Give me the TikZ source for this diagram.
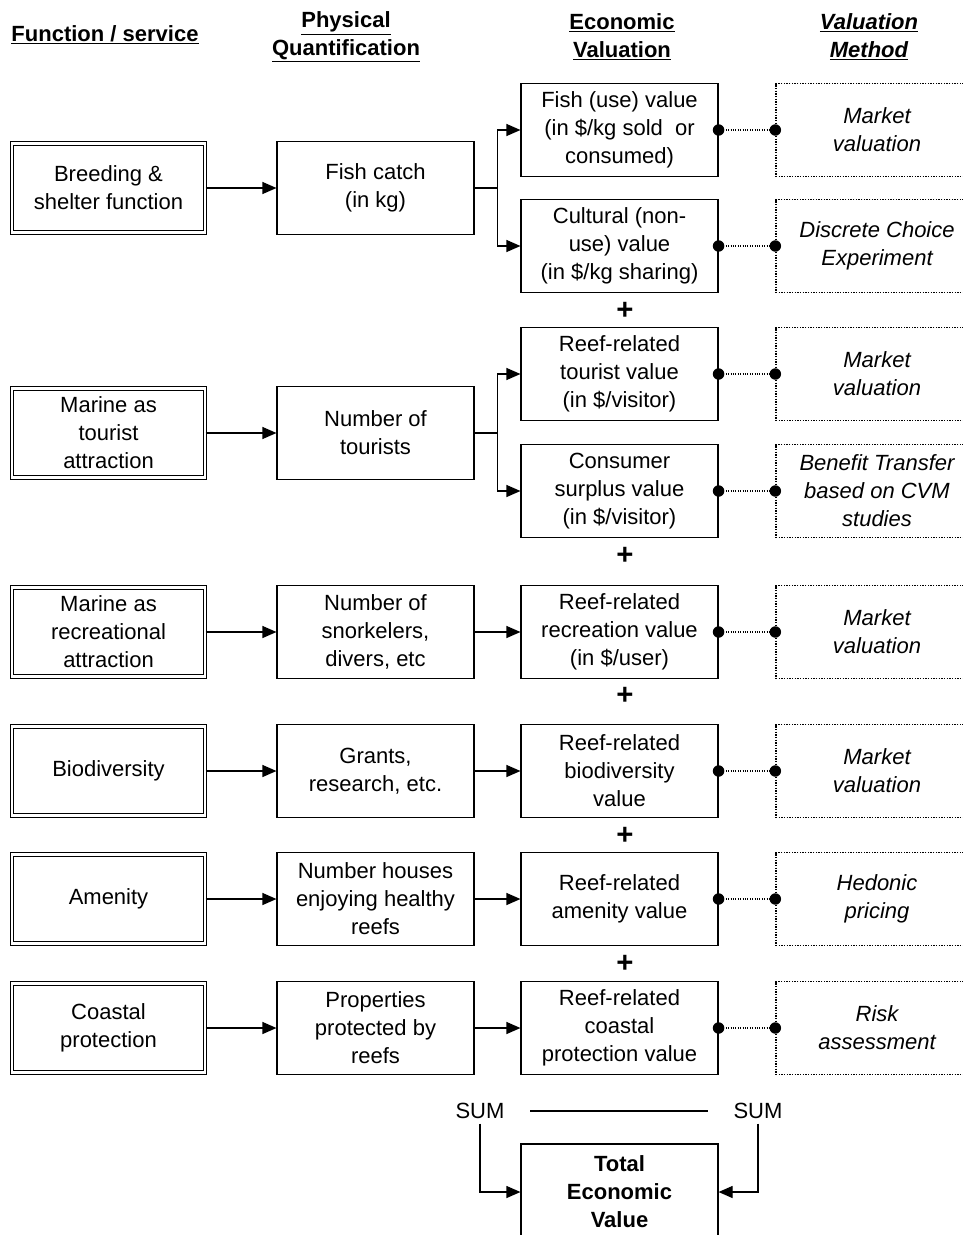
\documentclass[tikz,border=0pt]{standalone}
\usepackage{fontspec}
\setmainfont{Liberation Sans}
\usetikzlibrary{arrows.meta}
\begin{document}
\begin{tikzpicture}[x=0.75pt,y=-0.75pt,
  every node/.style={font=\fontsize{16.5}{21}\selectfont, align=center},
  head/.style={font=\fontsize{16.5}{21}\selectfont\bfseries},
  fbox/.style={draw, double, double distance=1.7pt, line width=1pt,
    minimum width=144.75pt, minimum height=66.75pt, inner sep=0pt},
  qbox/.style={draw, line width=0.85pt, minimum width=147.75pt,
    minimum height=69.75pt, inner sep=0pt},
  mbox/.style={draw, densely dotted, line width=1pt, minimum width=151.5pt,
    minimum height=69.75pt, inner sep=0pt, font=\fontsize{16.5}{21}\selectfont\itshape},
  plus/.style={font=\fontsize{22}{22}\selectfont\bfseries, inner sep=0pt},
  arr/.style={line width=0.85pt, -{Triangle[length=10.5pt,width=9pt]}},
  link/.style={densely dotted, line width=0.8pt},
  dot/.style={fill=black}
]
\useasboundingbox (0,0) rectangle (963,1235);
\clip (0,0) rectangle (963,1235);

% column headings
\node[head] (h1) at (105,35) {\underline{Function / service}};
\node[head] (h2) at (346,37) {\underline{Physical}\\\underline{Quantification}};
\node[head] (h3) at (622,37) {\underline{Economic}\\\underline{Valuation}};
\node[head, font=\fontsize{16.5}{21}\selectfont\bfseries\itshape] (h4) at (869,37)
  {\underline{Valuation}\\\underline{Method}};

% functions / services
\node[fbox] (f1) at (108.5,188) {Breeding \&\\shelter function};
\node[fbox] (f2) at (108.5,433) {Marine as\\tourist\\attraction};
\node[fbox] (f3) at (108.5,632) {Marine as\\recreational\\attraction};
\node[fbox] (f4) at (108.5,771) {Biodiversity};
\node[fbox] (f5) at (108.5,899) {Amenity};
\node[fbox] (f6) at (108.5,1028) {Coastal\\protection};

% physical quantification
\node[qbox] (q1) at (375.5,188) {Fish catch\\(in kg)};
\node[qbox] (q2) at (375.5,433) {Number of\\tourists};
\node[qbox] (q3) at (375.5,632) {Number of\\snorkelers,\\divers, etc};
\node[qbox] (q4) at (375.5,771) {Grants,\\research, etc.};
\node[qbox] (q5) at (375.5,899) {Number houses\\enjoying healthy\\reefs};
\node[qbox] (q6) at (375.5,1028) {Properties\\protected by\\reefs};

% economic valuation
\node[qbox] (e1) at (619.5,130) {Fish (use) value\\(in \$/kg sold\ \ or\\consumed)};
\node[qbox] (e2) at (619.5,246) {Cultural (non-\\use) value\\(in \$/kg sharing)};
\node[qbox] (e3) at (619.5,374) {Reef-related\\tourist value\\(in \$/visitor)};
\node[qbox] (e4) at (619.5,491) {Consumer\\surplus value\\(in \$/visitor)};
\node[qbox] (e5) at (619.5,632) {Reef-related\\recreation value\\(in \$/user)};
\node[qbox] (e6) at (619.5,771) {Reef-related\\biodiversity\\value};
\node[qbox] (e7) at (619.5,899) {Reef-related\\amenity value};
\node[qbox] (e8) at (619.5,1028) {Reef-related\\coastal\\protection value};

% valuation methods
\node[mbox] (m1) at (877,130) {Market\\valuation};
\node[mbox] (m2) at (877,246) {Discrete Choice\\Experiment};
\node[mbox] (m3) at (877,374) {Market\\valuation};
\node[mbox] (m4) at (877,491) {Benefit Transfer\\based on CVM\\studies};
\node[mbox] (m5) at (877,632) {Market\\valuation};
\node[mbox] (m6) at (877,771) {Market\\valuation};
\node[mbox] (m7) at (877,899) {Hedonic\\pricing};
\node[mbox] (m8) at (877,1028) {Risk\\assessment};

% plus signs between the values
\node[plus] (p1) at (625,311) {+};
\node[plus] (p2) at (625,556) {+};
\node[plus] (p3) at (625,696) {+};
\node[plus] (p4) at (625,836) {+};
\node[plus] (p5) at (625,964) {+};

% sum and total
\node (s1) at (480,1111) {SUM};
\node (s2) at (758,1111) {SUM};
\node[qbox, minimum height=72pt, font=\fontsize{16.5}{21}\selectfont\bfseries]
  (tev) at (619.5,1192) {Total\\Economic\\Value};

% function -> quantity
\foreach \i in {1,...,6} \draw[arr] (f\i.east) -- (q\i.west);

% quantity -> value
\draw[arr] (q1.east) -- ++(23,0) |- (e1.west);
\draw[arr] (q1.east) -- ++(23,0) |- (e2.west);
\draw[arr] (q2.east) -- ++(23,0) |- (e3.west);
\draw[arr] (q2.east) -- ++(23,0) |- (e4.west);
\draw[arr] (q3.east) -- (e5.west);
\draw[arr] (q4.east) -- (e6.west);
\draw[arr] (q5.east) -- (e7.west);
\draw[arr] (q6.east) -- (e8.west);

% value -- method links
\foreach \i in {1,...,8} {
  \draw[link] (e\i.east) -- (m\i.west);
  \fill[dot] (e\i.east) circle[radius=4.3pt];
  \fill[dot] (m\i.west) circle[radius=4.3pt];
}

% sums into the total
\draw[line width=0.85pt, shorten <=16pt, shorten >=16pt] (s1) -- (s2);
\draw[arr] (s1.south) |- (tev.west);
\draw[arr] (s2.south) |- (tev.east);
\end{tikzpicture}
\end{document}
